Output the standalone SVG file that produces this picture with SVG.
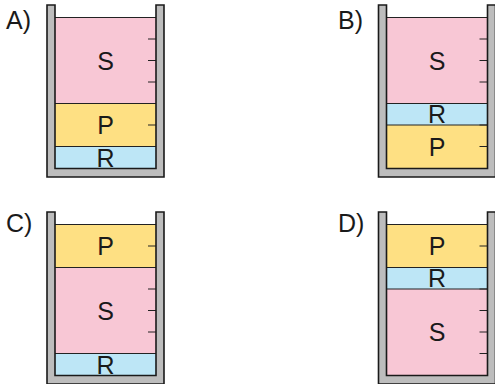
<svg xmlns="http://www.w3.org/2000/svg" width="495" height="384" viewBox="0 0 495 384">
<style>
.s{fill:#f8c7d5}
.p{fill:#fee083}
.r{fill:#bde6f6}
.ln{stroke:#222;stroke-width:1;fill:none}
.tk{stroke:#222;stroke-width:1.2;fill:none}
.wall{fill:#bdbdbd;stroke:#1a1a1a;stroke-width:1.6;stroke-linejoin:miter}
.t{font-family:"Liberation Sans",Arial,sans-serif;font-size:25px;fill:#1a1a1a;text-anchor:middle}
.lb{font-family:"Liberation Sans",Arial,sans-serif;font-size:25px;fill:#1a1a1a}
</style>
<defs>
<g id="ticks">
<path class="tk" d="M148 17.5H156M148 39H156M148 60.5H156M148 82H156M148 103.5H156M148 125H156M148 146.5H156"/>
</g>
<path id="cup" class="wall" d="M47 5V177H164V5H156V168.5H55V5Z"/>
</defs>

<g id="beakerA">
<text class="lb" x="6" y="28.5">A)</text>
<rect class="s" x="55" y="17.5" width="101" height="86"/>
<rect class="p" x="55" y="103.5" width="101" height="43"/>
<rect class="r" x="55" y="146.5" width="101" height="22"/>
<path class="ln" d="M55 17.5H156M55 103.5H156M55 146.5H156"/>
<use href="#ticks"/>
<use href="#cup"/>
<text class="t" x="105.5" y="69.5">S</text>
<text class="t" x="105.5" y="134">P</text>
<text class="t" x="105.5" y="166.5">R</text>
</g>

<g id="beakerB">
<text class="lb" x="338" y="28.5">B)</text>
<g transform="translate(331.5,0)">
<rect class="s" x="55" y="17.5" width="101" height="86"/>
<rect class="r" x="55" y="103.5" width="101" height="21.5"/>
<rect class="p" x="55" y="125" width="101" height="43.5"/>
<path class="ln" d="M55 17.5H156M55 103.5H156M55 125H156"/>
<use href="#ticks"/>
<use href="#cup"/>
<text class="t" x="105.5" y="69.5">S</text>
<text class="t" x="105.5" y="123.3">R</text>
<text class="t" x="105.5" y="155.8">P</text>
</g>
</g>

<g id="beakerC">
<text class="lb" x="6" y="231.5">C)</text>
<g transform="translate(0,207)">
<rect class="p" x="55" y="17.5" width="101" height="43"/>
<rect class="s" x="55" y="60.5" width="101" height="86"/>
<rect class="r" x="55" y="146.5" width="101" height="22"/>
<path class="ln" d="M55 17.5H156M55 60.5H156M55 146.5H156"/>
<use href="#ticks"/>
<use href="#cup"/>
<text class="t" x="105.5" y="48">P</text>
<text class="t" x="105.5" y="112.5">S</text>
<text class="t" x="105.5" y="166.5">R</text>
</g>
</g>

<g id="beakerD">
<text class="lb" x="338" y="231.5">D)</text>
<g transform="translate(331.5,207)">
<rect class="p" x="55" y="17.5" width="101" height="43"/>
<rect class="r" x="55" y="60.5" width="101" height="21.5"/>
<rect class="s" x="55" y="82" width="101" height="86.5"/>
<path class="ln" d="M55 17.5H156M55 60.5H156M55 82H156"/>
<use href="#ticks"/>
<use href="#cup"/>
<text class="t" x="105.5" y="48">P</text>
<text class="t" x="105.5" y="80.3">R</text>
<text class="t" x="105.5" y="134.3">S</text>
</g>
</g>
</svg>
